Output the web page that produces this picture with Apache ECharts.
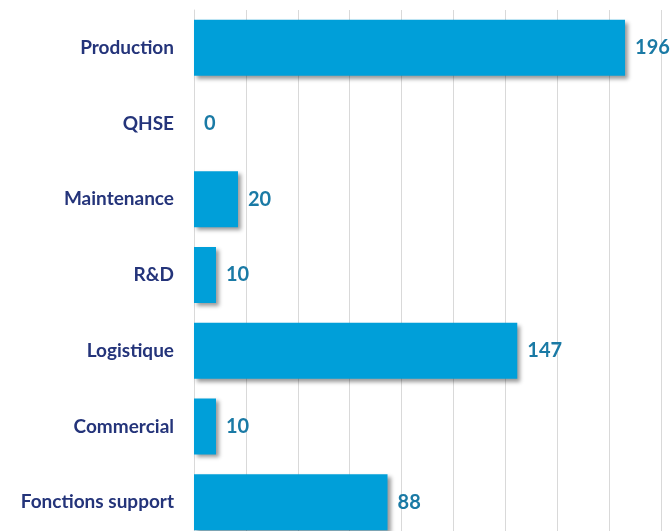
<!DOCTYPE html>
<html><head><meta charset="utf-8">
<script src="https://cdn.jsdelivr.net/npm/echarts@6/dist/echarts.min.js"></script>
<style>html,body{margin:0;padding:0;background:#fff;}#c{width:672px;height:531px;}</style>
</head><body><div id="c"></div>
<script>
const categories = ["Production","QHSE","Maintenance","R&D","Logistique","Commercial","Fonctions support"];
const values = [196,0,20,10,147,10,88];

const chart = echarts.init(document.getElementById('c'), null, {renderer:'canvas'});
chart.setOption({
  animation:false,
  grid:{left:194, top:10, width:519, height:530, outerBoundsMode:'none', containLabel:false},
  xAxis:{type:'value', min:0, max:236, interval:23.6,
    axisLabel:{show:false}, axisLine:{show:false}, axisTick:{show:false},
    splitLine:{show:true, lineStyle:{color:'#d9d9d9', width:1}}},
  yAxis:{type:'category', data:categories, inverse:true,
    axisLine:{show:true, lineStyle:{color:'#d9d9d9'}}, axisTick:{show:false},
    axisLabel:{margin:20, color:'#24347a', fontFamily:'Lato', fontWeight:'bold', fontSize:19}},
  series:[{type:'bar', data:values, barCategoryGap:'26%',
    itemStyle:{color:'#009fd9', borderWidth:0,
      shadowColor:'rgba(0,0,0,0.4)', shadowBlur:4, shadowOffsetX:3, shadowOffsetY:3},
    label:{show:true, position:'right', distance:10, color:'#1a7aa5',
      fontFamily:'Lato', fontWeight:'bold', fontSize:20}}]
});
</script></body></html>
